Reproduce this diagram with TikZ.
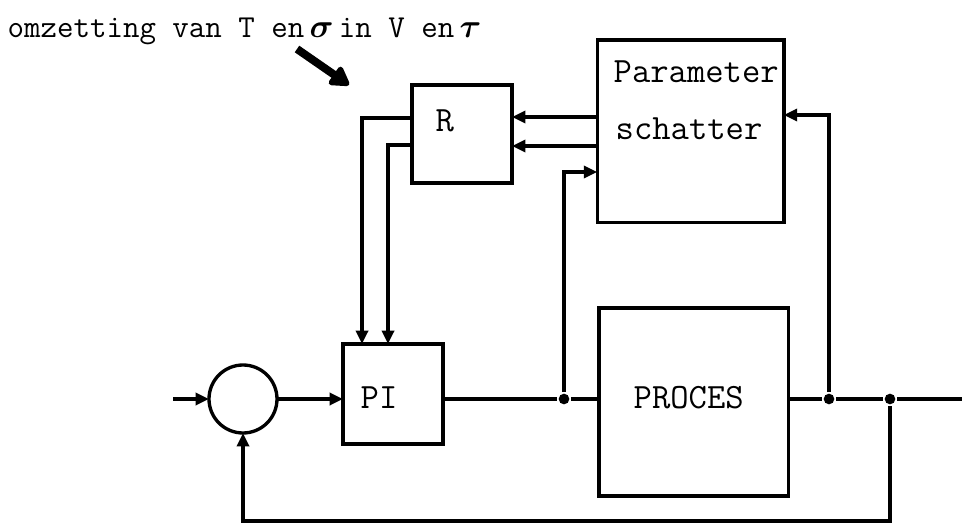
\documentclass[tikz,border=0pt]{standalone}
\usepackage{amsmath}
\usetikzlibrary{arrows.meta}
\begin{document}
\begin{tikzpicture}[x=0.75pt,y=-0.75pt,line width=2.5pt,
  box/.style={draw,line width=2.5pt,inner sep=0pt,outer sep=0pt},
  lbl/.style={anchor=base west,inner sep=0pt,font=\fontsize{26.7}{30}\selectfont\ttfamily},
  arr/.style={-{Triangle[length=10pt,width=9pt]}},
  dot/.style={circle,fill=black,inner sep=0pt,minimum size=8pt}]
\useasboundingbox (0,0) rectangle (962,530);
% title
\node[anchor=base west,inner sep=0pt,font=\fontsize{24}{28}\selectfont\ttfamily] (title) at (6,38)
  {omzetting van T en\,$\boldsymbol{\sigma}$\,in V en\,$\boldsymbol{\tau}$};
% blocks
\node[box,minimum width=75pt,minimum height=73.5pt] (R) at (462,134) {};
\node[lbl] (Rt) at (434,132) {R};
\node[box,minimum width=140pt,minimum height=137pt] (par) at (690.5,131.5) {};
\node[lbl] (p1) at (612,83) {Parameter};
\node[lbl] (p2) at (614,140) {schatter};
\node[box,minimum width=75pt,minimum height=75pt] (PI) at (393,394) {};
\node[lbl] (PIt) at (359,408) {PI};
\node[box,minimum width=142pt,minimum height=141pt] (proc) at (693.5,402) {};
\node[lbl] (proct) at (632,408) {PROCES};
\node[draw,circle,line width=2.5pt,minimum size=51pt,inner sep=0pt,outer sep=0pt] (sum) at (243,399) {};
% heavy pointer arrow
\coordinate (hs) at (297,49);
\coordinate (he) at (349,85);
\draw[line width=6pt,-{Triangle[length=16pt,width=18pt,round]}] (hs) -- (he);
% junctions
\node[dot] (j1) at (564,399) {};
\node[dot] (j2) at (829,399) {};
\node[dot] (j3) at (890,399) {};
\coordinate (inp) at (173,399);
\coordinate (outp) at (962,399);
\coordinate (fb1) at (890,521);
\coordinate (fb2) at (sum.south |- fb1);
% main path
\draw[arr] (inp) -- (sum.west);
\draw[arr] (sum.east) -- (PI.west |- sum.east);
\draw (PI.east |- j1) -- (j1) -- (proc.west |- j1);
\draw (proc.east |- j2) -- (j2) -- (j3) -- (outp);
\draw[arr] (j3) -- (fb1) -- (fb2) -- (sum.south);
% parameter estimator inputs
\draw[arr] (j1) -- (564,172) -- (par.west |- 0,172);
\draw[arr] (j2) -- (829,115) -- (par.east |- 0,115);
% par -> R
\draw[arr] (par.west |- 0,117) -- (R.east |- 0,117);
\draw[arr] (par.west |- 0,146) -- (R.east |- 0,146);
% R -> PI
\draw[arr] (R.west |- 0,118) -- (362,118) -- (362,0 |- PI.north);
\draw[arr] (R.west |- 0,145) -- (388,145) -- (388,0 |- PI.north);
\end{tikzpicture}
\end{document}
